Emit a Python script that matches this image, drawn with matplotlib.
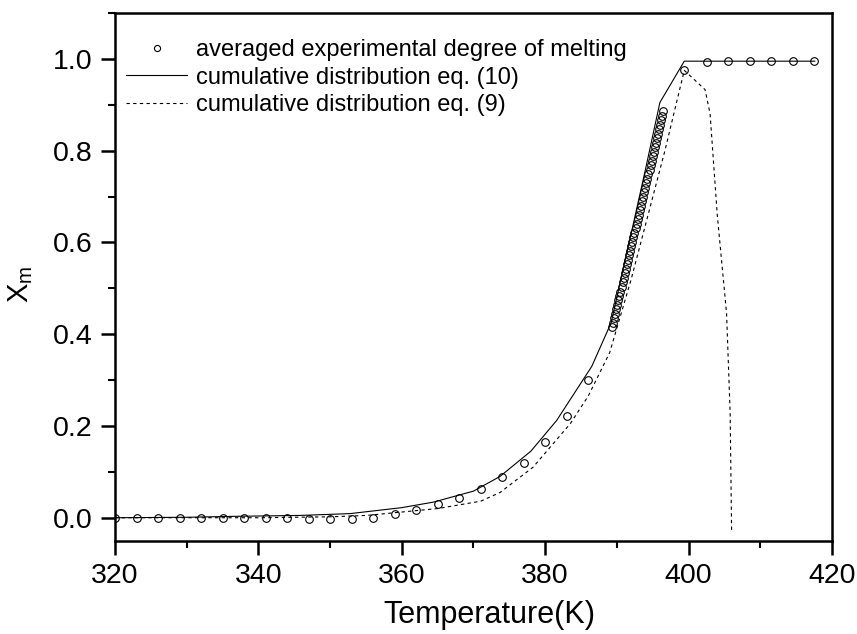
import matplotlib
matplotlib.use("Agg")
import matplotlib.pyplot as plt
from matplotlib.ticker import MultipleLocator

plt.rcParams['font.family'] = ['Liberation Sans', 'DejaVu Sans']
plt.rcParams['mathtext.fontset'] = 'custom'
plt.rcParams['mathtext.rm'] = 'Liberation Sans'

# averaged experimental degree of melting (sparse part)
exp_T_low = [320, 323, 326, 329, 332, 335, 338, 341, 344, 347, 350, 353, 356,
             359, 362, 365, 368, 371, 374, 377, 380, 383, 386]
exp_X_low = [0.0, 0.0, 0.0, 0.0, 0.0, 0.0, 0.0, 0.0, -0.001, -0.002, -0.003, -0.002, 0.0,
             0.009, 0.017, 0.029, 0.043, 0.062, 0.088, 0.120, 0.164, 0.221, 0.301]
# dense part
exp_T_dense = [389.30, 389.45, 389.60, 389.75, 389.90, 390.05, 390.20, 390.35, 390.50, 390.65,
               390.80, 390.95, 391.10, 391.25, 391.40, 391.55, 391.70, 391.85, 392.00, 392.15,
               392.30, 392.45, 392.60, 392.75, 392.90, 393.05, 393.20, 393.35, 393.50, 393.65,
               393.80, 393.95, 394.10, 394.25, 394.40, 394.55, 394.70, 394.85, 395.00, 395.15,
               395.30, 395.45, 395.60, 395.75, 395.90, 396.05, 396.20, 396.35, 396.50]
exp_X_dense = [0.415, 0.425, 0.435, 0.444, 0.454, 0.464, 0.474, 0.484, 0.493, 0.503,
               0.513, 0.523, 0.533, 0.543, 0.552, 0.562, 0.572, 0.582, 0.592, 0.601,
               0.611, 0.621, 0.631, 0.641, 0.650, 0.660, 0.670, 0.680, 0.690, 0.699,
               0.709, 0.719, 0.729, 0.739, 0.749, 0.758, 0.768, 0.778, 0.788, 0.798,
               0.807, 0.817, 0.827, 0.837, 0.847, 0.856, 0.866, 0.876, 0.886]
# high-temperature part
exp_T_high = [399.4, 402.5, 405.5, 408.5, 411.5, 414.5, 417.5]
exp_X_high = [0.976, 0.994, 0.995, 0.995, 0.995, 0.995, 0.995]

# cumulative distribution eq. (10)
eq10_T = [320, 330, 336.5, 345.8, 352.8, 360, 364.4, 370, 373.7, 378, 381.6, 386.5,
          389.2, 392, 394, 396.0, 399.4, 417.6]
eq10_X = [0.0, 0.001, 0.003, 0.005, 0.009, 0.022, 0.034, 0.058, 0.090, 0.145, 0.212, 0.330,
          0.425, 0.620, 0.760, 0.905, 0.995, 0.995]

# cumulative distribution eq. (9)
eq9_T = [320, 340, 350, 355.1, 359.7, 365, 371, 373.7, 378.3, 383.5, 386, 389, 392,
         396.7, 399.4, 402.3, 403.0, 404.0, 405.3, 405.8, 406.0]
eq9_X = [0.0, 0.0, 0.002, 0.005, 0.012, 0.020, 0.036, 0.055, 0.110, 0.205, 0.265, 0.360,
         0.520, 0.800, 0.975, 0.933, 0.880, 0.660, 0.445, 0.227, -0.031]

exp_T = exp_T_low + exp_T_dense + exp_T_high
exp_X = exp_X_low + exp_X_dense + exp_X_high

fig = plt.figure(figsize=(8.57, 6.34), dpi=100)
ax = fig.add_axes([0.1342, 0.1472, 0.8366, 0.8323])

ax.plot(exp_T, exp_X, linestyle='none', marker='o', markersize=5.5,
        markerfacecolor='none', markeredgecolor='black', markeredgewidth=0.8,
        label='averaged experimental degree of melting')
ax.plot(eq10_T, eq10_X, color='black', linewidth=0.8,
        label='cumulative distribution eq. (10)')
ax.plot(eq9_T, eq9_X, color='black', linewidth=0.8, linestyle=(0, (3, 3)),
        label='cumulative distribution eq. (9)')

ax.set_xlim(320, 420)
ax.set_ylim(-0.05, 1.1)
ax.xaxis.set_major_locator(MultipleLocator(20))
ax.xaxis.set_minor_locator(MultipleLocator(10))
ax.yaxis.set_major_locator(MultipleLocator(0.2))
ax.yaxis.set_minor_locator(MultipleLocator(0.1))
ax.yaxis.set_major_formatter(matplotlib.ticker.FormatStrFormatter('%.1f'))

for s in ax.spines.values():
    s.set_linewidth(1.8)
ax.tick_params(which='major', direction='out', length=10, width=1.8, labelsize=20.5, pad=6)
ax.tick_params(which='minor', direction='out', length=5, width=1.5)

ax.set_xlabel('Temperature(K)', fontsize=22)
ax.set_ylabel(r'$\mathrm{X}_\mathrm{m}$', fontsize=21)
ax.xaxis.set_label_coords(0.522, -0.112)
ax.yaxis.set_label_coords(-0.112, 0.485)

ax.legend(loc='upper left', bbox_to_anchor=(0.0153, 0.951), frameon=False,
          fontsize=17, handlelength=2.6, handletextpad=0.35, labelspacing=0.24,
          borderpad=0, borderaxespad=0, markerscale=0.8)

fig.savefig('out.png', dpi=100)
